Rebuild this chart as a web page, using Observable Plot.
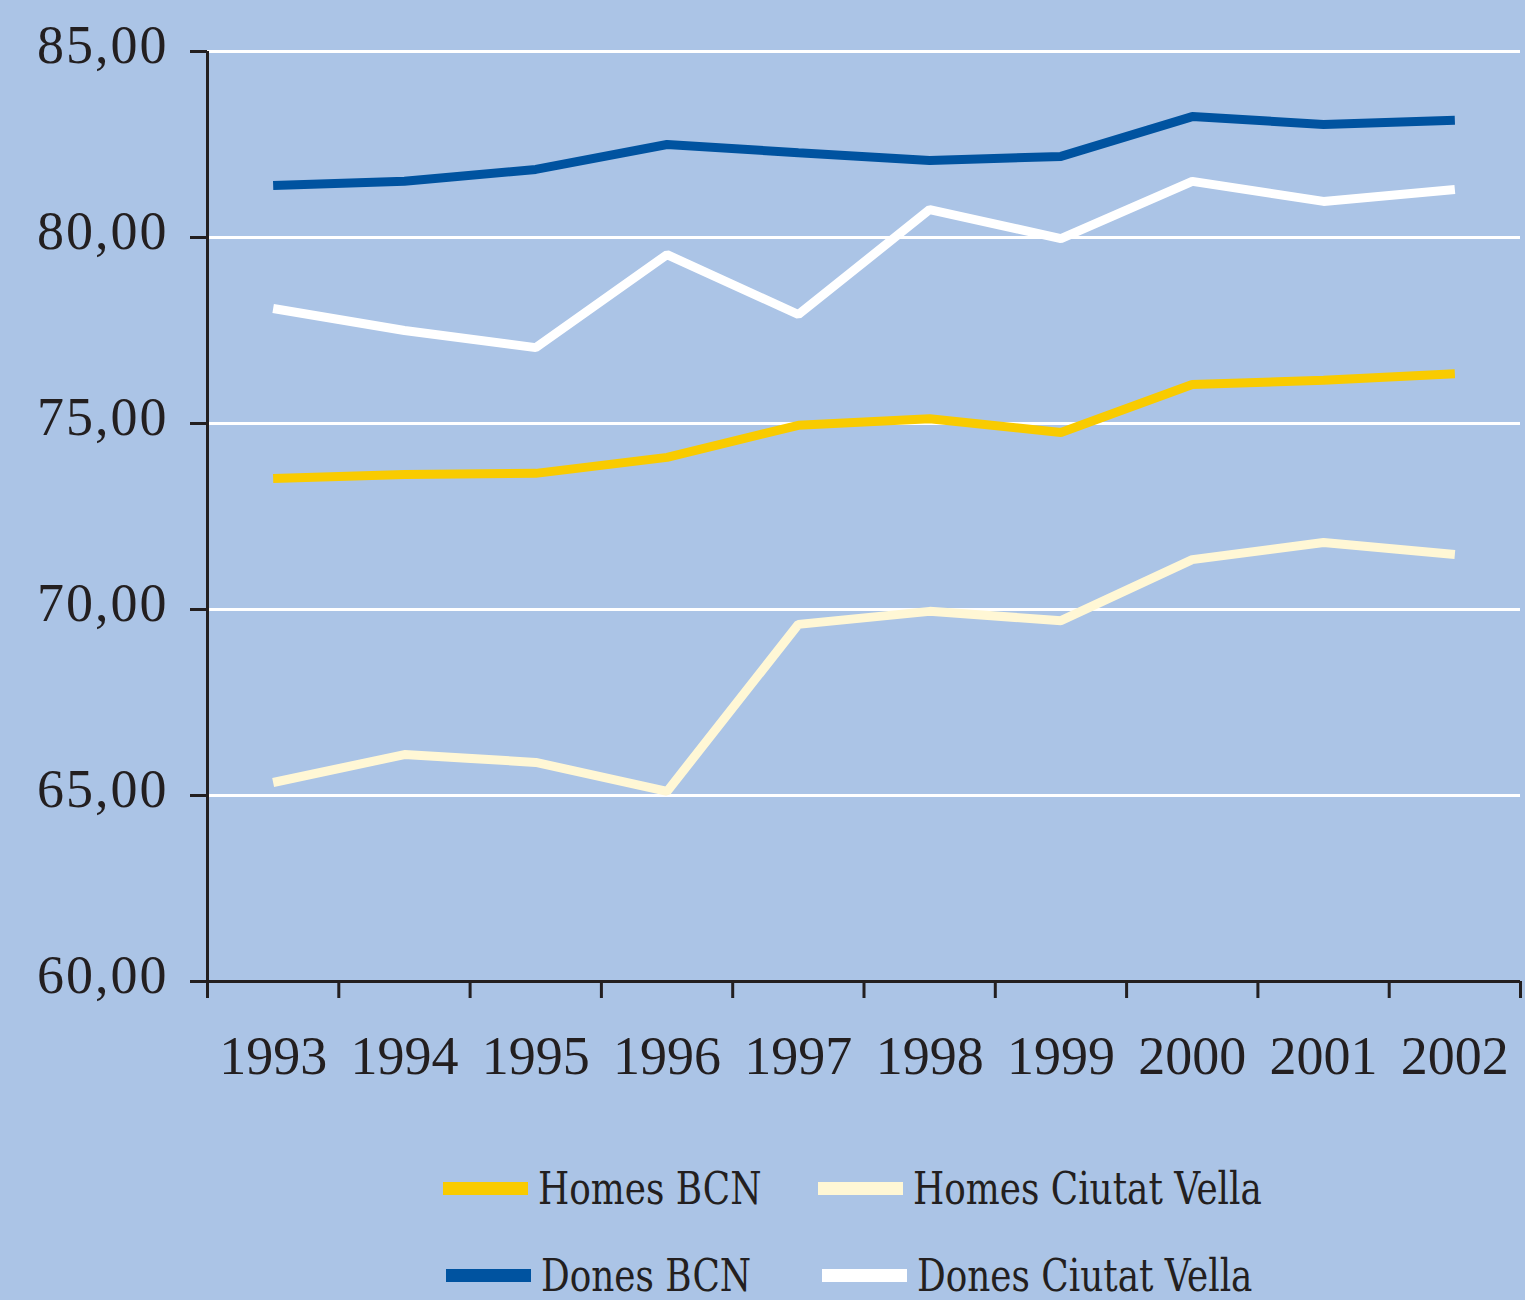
<!DOCTYPE html>
<html>
<head>
<meta charset="utf-8">
<script src="https://cdn.jsdelivr.net/npm/d3@7"></script>
<script src="https://cdn.jsdelivr.net/npm/@observablehq/plot@0.6"></script>
<style>
  html, body { margin: 0; padding: 0; background: #abc4e6; }
  #wrap { width: 1525px; height: 1300px; position: relative; background: #abc4e6; overflow: hidden; }
  #chart svg { display: block; }
  .legend { position: absolute; left: 0; top: 1130px; width: 1525px; height: 170px; }
  .item { position: absolute; display: flex; align-items: center; height: 60px; }
  .sw { width: 85px; height: 13px; margin-right: 10px; flex: none; }
  .lab { display: inline-block; font-family: "DejaVu Serif", "Liberation Serif", serif; font-stretch: condensed; font-size: 45px; color: #231f20; white-space: nowrap; transform: scaleX(0.885); transform-origin: left center; }
</style>
</head>
<body>
<div id="wrap">
  <div id="chart"></div>
  <div class="legend" id="legend"></div>
</div>
<script>
const years = [1993, 1994, 1995, 1996, 1997, 1998, 1999, 2000, 2001, 2002];
const seriesNames = ["Homes BCN", "Homes Ciutat Vella", "Dones BCN", "Dones Ciutat Vella"];
const seriesColors = ["#f9cb00", "#fff7d5", "#0053a0", "#ffffff"];
const homesBCN = [73.52, 73.63, 73.66, 74.09, 74.95, 75.13, 74.76, 76.05, 76.16, 76.34];
const homesCV = [65.35, 66.10, 65.89, 65.11, 69.60, 69.95, 69.70, 71.34, 71.80, 71.48];
const donesBCN = [81.40, 81.51, 81.83, 82.50, 82.28, 82.07, 82.18, 83.25, 83.04, 83.15];
const donesCV = [78.09, 77.50, 77.04, 79.54, 77.93, 80.75, 79.97, 81.51, 80.97, 81.29];
const yTicks = [60, 65, 70, 75, 80, 85];
const gridTicks = [65, 70, 75, 80, 85];
const yearBounds = [1992.5, 1993.5, 1994.5, 1995.5, 1996.5, 1997.5, 1998.5, 1999.5, 2000.5, 2001.5, 2002.5];

const seriesValues = [homesBCN, homesCV, donesBCN, donesCV];
const data = [];
seriesNames.forEach((name, i) => {
  years.forEach((yr, j) => data.push({serie: name, year: yr, value: seriesValues[i][j]}));
});

const fmt = d => d3.format(".2f")(d).replace(".", ",");

const chart = Plot.plot({
  width: 1525,
  height: 1130,
  marginLeft: 207,
  marginRight: 5,
  marginTop: 51,
  marginBottom: 149,
  style: { background: "transparent", color: "#231f20", fontFamily: "Liberation Serif, serif" },
  x: { domain: [1992.5, 2002.5] },
  y: { domain: [60, 85] },
  color: { domain: seriesNames, range: seriesColors },
  marks: [
    Plot.gridY(gridTicks, { stroke: "#ffffff", strokeOpacity: 1, strokeWidth: 3 }),
    Plot.line(data, {
      x: "year", y: "value", z: "serie", stroke: "serie",
      strokeWidth: 9, strokeLinecap: "butt", strokeLinejoin: "miter"
    }),
    Plot.axisY(yTicks, {
      tickSize: 17, tickFormat: () => "", label: null, strokeWidth: 3, stroke: "#231f20"
    }),
    Plot.axisY(yTicks, {
      tickSize: 0, tickPadding: 39, tickFormat: fmt, label: null,
      fontSize: 54, dy: -6, fill: "#231f20"
    }),
    Plot.axisX(yearBounds, {
      tickSize: 17, tickFormat: () => "", label: null, strokeWidth: 3, stroke: "#231f20"
    }),
    Plot.axisX(years, {
      tickSize: 0, tickPadding: 54, tickFormat: d => String(d), label: null,
      fontSize: 54, fill: "#231f20"
    }),
    Plot.ruleX([1992.5], { stroke: "#231f20", strokeWidth: 3 }),
    Plot.ruleY([60], { x1: 1992.5, x2: 2002.5, stroke: "#231f20", strokeWidth: 3 })
  ]
});
chart.querySelectorAll('g[aria-label="y-axis tick label"] text').forEach(t => t.setAttribute("letter-spacing", "2"));
document.getElementById("chart").appendChild(chart);

const legendPos = [
  { left: 443, top: 1158 - 1130 },
  { left: 818, top: 1158 - 1130 },
  { left: 446, top: 1245 - 1130 },
  { left: 822, top: 1245 - 1130 }
];
const legend = document.getElementById("legend");
seriesNames.forEach((name, i) => {
  const it = document.createElement("div");
  it.className = "item";
  it.style.left = legendPos[i].left + "px";
  it.style.top = legendPos[i].top + "px";
  const sw = document.createElement("div");
  sw.className = "sw";
  sw.style.background = seriesColors[i];
  const lab = document.createElement("span");
  lab.className = "lab";
  lab.textContent = name;
  it.appendChild(sw);
  it.appendChild(lab);
  legend.appendChild(it);
});
</script>
</body>
</html>
